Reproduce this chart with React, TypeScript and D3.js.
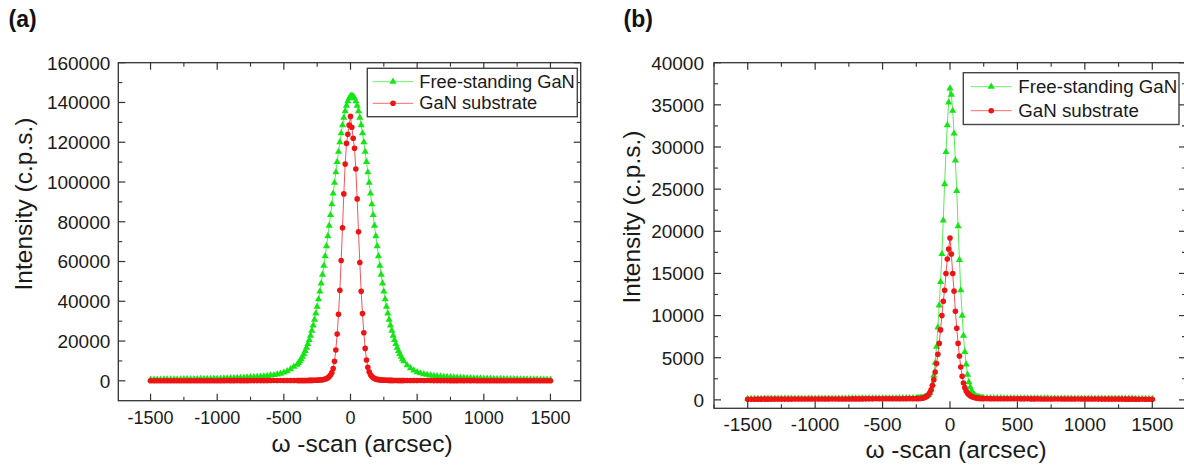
import React from 'react';
import * as d3 from 'd3';

// ---------------- DATA ----------------
const seriesNames = ['Free-standing GaN', 'GaN substrate'];

// Panel (a): omega-scan positions (arcsec)
const scanA = [
  -1500, -1475, -1450, -1425, -1400, -1375, -1350, -1325, -1300, -1275, -1250, -1225, -1200, -1175, -1150,
  -1125, -1100, -1075, -1050, -1025, -1000, -975, -950, -925, -900, -875, -850, -825, -800, -775, -750,
  -725, -700, -675, -650, -625, -600, -575, -550, -525, -500, -475, -450, -425,
  -400, -390, -380, -370, -360, -350, -340, -330, -320, -310, -300, -290, -280, -270, -260, -250, -240,
  -230, -220, -210, -200, -190, -180, -170, -160, -150, -140, -130, -120, -110, -100, -90, -80, -70, -60,
  -50, -40, -30, -20, -10, 0, 10, 20, 30, 40, 50, 60, 70, 80, 90, 100, 110, 120, 130, 140, 150, 160, 170,
  180, 190, 200, 210, 220, 230, 240, 250, 260, 270, 280, 290, 300, 310, 320, 330, 340, 350, 360, 370, 380,
  390, 400,
  425, 450, 475, 500, 525, 550, 575, 600, 625, 650, 675, 700, 725, 750, 775, 800, 825, 850, 875, 900, 925,
  950, 975, 1000, 1025, 1050, 1075, 1100, 1125, 1150, 1175, 1200, 1225, 1250, 1275, 1300, 1325, 1350,
  1375, 1400, 1425, 1450, 1475, 1500,
];

const freeStandingA = [
  615, 630, 645, 660, 675, 695, 710, 730, 750, 775, 795, 820, 845, 870, 900,
  930, 965, 1000, 1040, 1080, 1120, 1170, 1220, 1270, 1330, 1390, 1460, 1530, 1610, 1700, 1800,
  1900, 2020, 2150, 2300, 2470, 2680, 2930, 3240, 3640, 4170, 4900, 5890, 7100,
  8100, 9000, 9900, 10900, 12100, 13500, 15000, 16600, 18500, 20500, 22700, 25200, 27900, 30800, 33900,
  37300, 41000, 44900, 49000, 53400, 57900, 62700, 67700, 72800, 78000, 83400, 88800, 94200, 99600,
  104900, 110100, 115200, 120000, 124500, 128600, 132400, 135600, 138400, 140600, 142200, 143200,
  143500, 143200, 142200, 140600, 138400, 135600, 132400, 128600, 124500, 120000, 115200, 110100,
  104900, 99600, 94200, 88800, 83400, 78000, 72800, 67700, 62700, 57900, 53400, 49000, 44900, 41000,
  37300, 33900, 30800, 27900, 25200, 22700, 20500, 18500, 16600, 15000, 13500, 12100, 10900, 9900,
  7800, 6400, 5200, 4400, 3800, 3350, 3020, 2750, 2530, 2350, 2190, 2050, 1930, 1820, 1720, 1630, 1550,
  1470, 1400, 1340, 1280, 1230, 1180, 1130, 1090, 1050, 1010, 975, 940, 910, 880, 850, 825, 800, 780,
  755, 735, 715, 700, 680, 665, 650, 635, 620,
];

const substrateA = [
  40, 40, 42, 42, 44, 45, 46, 47, 48, 50, 51, 52, 54, 55, 57,
  58, 60, 62, 64, 66, 68, 70, 72, 75, 78, 80, 83, 86, 90, 93, 97,
  100, 105, 110, 115, 120, 125, 130, 135, 140, 145, 150, 155, 160,
  165, 168, 170, 173, 176, 180, 184, 188, 193, 198, 210, 225, 245, 265, 290, 320, 360,
  410, 480, 570, 700, 880, 1150, 1550, 2100, 2900, 4100, 6200, 9800, 15500, 23500, 33500, 45500, 60500, 77000,
  94000, 109000, 119400, 124000, 128600, 133000, 127500, 122000, 117000, 106500, 91500, 75000, 59500,
  45000, 33800, 24200, 16300, 10500, 6800, 4500, 3100, 2200, 1600, 1180, 900, 720, 590, 490, 420, 365,
  325, 295, 268, 247, 228, 212, 200, 194, 189, 185, 181, 177, 174, 171, 168, 165,
  158, 153, 148, 143, 138, 133, 128, 123, 118, 113, 108, 104, 100, 96, 92, 88, 85, 82, 79, 76, 73,
  70, 68, 66, 64, 62, 60, 58, 56, 55, 54, 52, 51, 50, 48, 47, 46, 45, 44, 43, 42, 41, 40, 40,
];

// Panel (b)
const scanB = [
  -1500, -1475, -1450, -1425, -1400, -1375, -1350, -1325, -1300, -1275, -1250, -1225, -1200, -1175, -1150,
  -1125, -1100, -1075, -1050, -1025, -1000, -975, -950, -925, -900, -875, -850, -825, -800, -775, -750,
  -725, -700, -675, -650, -625, -600, -575, -550, -525, -500, -475, -450, -425, -400, -375, -350, -325,
  -300, -275,
  -250, -240, -230, -220, -210, -200, -190, -180, -170, -160, -150, -140, -130, -120, -110, -100, -90,
  -80, -70, -60, -50, -40, -30, -20, -10, 0, 10, 20, 30, 40, 50, 60, 70, 80, 90, 100, 110, 120, 130, 140,
  150, 160, 170, 180, 190, 200, 210, 220, 230, 240, 250,
  275, 300, 325, 350, 375, 400, 425, 450, 475, 500, 525, 550, 575, 600, 625, 650, 675, 700, 725, 750,
  775, 800, 825, 850, 875, 900, 925, 950, 975, 1000, 1025, 1050, 1075, 1100, 1125, 1150, 1175, 1200,
  1225, 1250, 1275, 1300, 1325, 1350, 1375, 1400, 1425, 1450, 1475, 1500,
];

const freeStandingB = [
  130, 131, 132, 133, 134, 135, 136, 137, 138, 139, 140, 141, 142, 143, 144,
  145, 146, 147, 148, 149, 150, 152, 153, 154, 155, 157, 158, 160, 161, 163, 165,
  167, 169, 171, 173, 175, 177, 179, 181, 183, 185, 187, 189, 191, 193, 195, 197, 200,
  203, 206,
  210, 215, 225, 240, 255, 280, 320, 380, 460, 600, 850, 1250, 1900, 2900, 4400, 6300, 8600,
  11200, 14000, 17300, 21300, 25600, 29400, 32600, 35300, 36960, 36200, 34300, 31600, 28400, 24800,
  20600, 16600, 13000, 10000, 7600, 5700, 4200, 3000, 2100, 1500, 1100, 800, 600, 470, 390, 330, 290,
  260, 240, 220,
  210, 205, 200, 197, 194, 191, 189, 187, 185, 183, 181, 179, 177, 175, 173, 171, 169, 167, 165, 163,
  161, 160, 158, 157, 155, 154, 153, 152, 150, 149, 148, 147, 146, 145, 144, 143, 142, 141, 140, 139,
  138, 137, 136, 135, 134, 133, 132, 131, 130, 130,
];

const substrateB = [
  80, 81, 82, 83, 84, 85, 86, 87, 88, 89, 90, 91, 92, 93, 94,
  95, 96, 97, 98, 99, 100, 101, 102, 103, 104, 106, 107, 108, 110, 111, 112,
  114, 115, 117, 118, 120, 121, 123, 125, 127, 129, 131, 133, 135, 137, 139, 141, 143,
  145, 147,
  150, 155, 160, 170, 185, 230, 280, 350, 450, 600, 850, 1200, 1700, 2400, 3300, 4300, 5400,
  6700, 8300, 10000, 11700, 13000, 15000, 16700, 17900, 19200, 17300, 15000, 12900, 10500, 8500,
  6700, 5200, 3900, 2800, 2000, 1450, 1050, 800, 620, 500, 400, 330, 280, 240, 210, 190, 175,
  165, 155, 150,
  145, 142, 139, 137, 135, 133, 131, 129, 127, 125, 123, 121, 119, 117, 115, 113, 112, 111, 110, 108,
  107, 106, 105, 104, 103, 102, 101, 100, 99, 98, 97, 96, 95, 94, 93, 92, 91, 90, 89, 88,
  87, 86, 85, 84, 83, 82, 81, 80, 80, 80,
];

const xTickValues = [-1500, -1000, -500, 0, 500, 1000, 1500];
const yTickValuesA = [0, 20000, 40000, 60000, 80000, 100000, 120000, 140000, 160000];
const yTickValuesB = [0, 5000, 10000, 15000, 20000, 25000, 30000, 35000, 40000];

// ---------------- STYLE / LAYOUT ----------------
const FONT = "'Liberation Sans', Arial, Helvetica, sans-serif";
const TEXT = '#1a1a1a';
const AXIS = '#333';
const GREEN = '#14e614';
const RED = '#ee1414';

type Cfg = {
  label: string; labelX: number;
  xDomain: [number, number]; xRange: [number, number];
  yDomain: [number, number]; yRange: [number, number];
  yMinorStep: number;
  xFont: number; yFont: number; yLabelGap: number;
  yTitleX: number; yTitleY: number; xTitleX: number; xTitleY: number;
  legend: { x0: number; y0: number; x1: number; y1: number; lx0: number; lx1: number; rows: number[]; tx: number; font: number };
  scan: number[]; green: number[]; red: number[]; yTicks: number[];
};

const panels: Cfg[] = [
  {
    label: '(a)', labelX: 8.5,
    xDomain: [-1742, 1727], xRange: [118.3, 580.7],
    yDomain: [-10000, 160000], yRange: [400.7, 62.7],
    yMinorStep: 10000,
    xFont: 18, yFont: 19, yLabelGap: 8,
    yTitleX: 31.5, yTitleY: 204, xTitleX: 362, xTitleY: 452,
    legend: { x0: 367.3, y0: 68.3, x1: 577.3, y1: 116.7, lx0: 372.7, lx1: 413.3, rows: [81.7, 103.3], tx: 419.3, font: 18.3 },
    scan: scanA, green: freeStandingA, red: substrateA, yTicks: yTickValuesA,
  },
  {
    label: '(b)', labelX: 623.5,
    xDomain: [-1750, 1750], xRange: [714, 1186],
    yDomain: [-1000, 40000], yRange: [408.3, 62.7],
    yMinorStep: 2500,
    xFont: 19, yFont: 19, yLabelGap: 10,
    yTitleX: 640, yTitleY: 217, xTitleX: 956, xTitleY: 458,
    legend: { x0: 963.3, y0: 72.7, x1: 1179, y1: 124.5, lx0: 970.7, lx1: 1011.7, rows: [86.7, 110.7], tx: 1018.3, font: 18.7 },
    scan: scanB, green: freeStandingB, red: substrateB, yTicks: yTickValuesB,
  },
];

const triPath = d3.symbol().type(d3.symbolTriangle).size(22)() as string;
const triPathLegend = d3.symbol().type(d3.symbolTriangle).size(22)() as string;

function Series({ scan, values, x, y, color, kind }: any) {
  const n = Math.min(scan.length, values.length);
  const idx = d3.range(n);
  const line = d3.line<number>().x((i) => x(scan[i])).y((i) => y(values[i]));
  return (
    <g>
      <path d={line(idx) || ''} fill="none" stroke={color} strokeWidth={0.9} strokeOpacity={0.8} />
      {idx.map((i) =>
        kind === 'tri' ? (
          <path key={i} d={triPath} transform={`translate(${x(scan[i])},${y(values[i])})`} fill={color} />
        ) : (
          <circle key={i} cx={x(scan[i])} cy={y(values[i])} r={2.8} fill={color} />
        )
      )}
    </g>
  );
}

function Panel({ c }: { c: Cfg }) {
  const x = d3.scaleLinear().domain(c.xDomain).range(c.xRange);
  const y = d3.scaleLinear().domain(c.yDomain).range(c.yRange);
  const [xl, xr] = c.xRange;
  const [yb, yt] = c.yRange;
  const xMinor = d3.range(-1750, 1751, 250).filter((v) => v >= c.xDomain[0] && v <= c.xDomain[1] && !xTickValues.includes(v));
  const yMinor = d3.range(0, c.yDomain[1] + 1, c.yMinorStep)
    .concat(d3.range(-c.yMinorStep, c.yDomain[0] - 1, -c.yMinorStep))
    .filter((v) => v > c.yDomain[0] && v < c.yDomain[1] && !c.yTicks.includes(v));
  const MAJ = 7, MIN = 4;
  const L = c.legend;
  return (
    <g>
      <text x={c.labelX} y={27} fontFamily={FONT} fontWeight="bold" fontSize={23} fill="#111">{c.label}</text>
      {/* data */}
      <Series scan={c.scan} values={c.green} x={x} y={y} color={GREEN} kind="tri" />
      <Series scan={c.scan} values={c.red} x={x} y={y} color={RED} kind="dot" />
      {/* frame */}
      <rect x={xl} y={yt} width={xr - xl} height={yb - yt} fill="none" stroke={AXIS} strokeWidth={1.3} />
      {/* x ticks bottom and top */}
      {xTickValues.map((v) => (
        <g key={'xm' + v}>
          <line x1={x(v)} x2={x(v)} y1={yb} y2={yb - MAJ} stroke={AXIS} strokeWidth={1.2} />
          <line x1={x(v)} x2={x(v)} y1={yt} y2={yt + MAJ} stroke={AXIS} strokeWidth={1.2} />
          <text x={x(v)} y={yb + 23} textAnchor="middle" fontFamily={FONT} fontSize={c.xFont} fill={TEXT}>{v}</text>
        </g>
      ))}
      {xMinor.map((v) => (
        <g key={'xn' + v}>
          <line x1={x(v)} x2={x(v)} y1={yb} y2={yb - MIN} stroke={AXIS} strokeWidth={1.1} />
          <line x1={x(v)} x2={x(v)} y1={yt} y2={yt + MIN} stroke={AXIS} strokeWidth={1.1} />
        </g>
      ))}
      {/* y ticks left and right */}
      {c.yTicks.map((v) => (
        <g key={'ym' + v}>
          <line x1={xl} x2={xl + MAJ} y1={y(v)} y2={y(v)} stroke={AXIS} strokeWidth={1.2} />
          <line x1={xr} x2={xr - MAJ} y1={y(v)} y2={y(v)} stroke={AXIS} strokeWidth={1.2} />
          <text x={xl - c.yLabelGap} y={y(v)} dy="0.36em" textAnchor="end" fontFamily={FONT} fontSize={c.yFont} fill={TEXT}>{v}</text>
        </g>
      ))}
      {yMinor.map((v) => (
        <g key={'yn' + v}>
          <line x1={xl} x2={xl + MIN} y1={y(v)} y2={y(v)} stroke={AXIS} strokeWidth={1.1} />
          <line x1={xr} x2={xr - MIN} y1={y(v)} y2={y(v)} stroke={AXIS} strokeWidth={1.1} />
        </g>
      ))}
      {/* axis titles */}
      <text transform={`translate(${c.yTitleX},${c.yTitleY}) rotate(-90)`} textAnchor="middle" fontFamily={FONT} fontSize={24.5} fill={TEXT}>Intensity (c.p.s.)</text>
      <text x={c.xTitleX} y={c.xTitleY} textAnchor="middle" fontFamily={FONT} fontSize={24.5} fill={TEXT}>ω -scan (arcsec)</text>
      {/* legend */}
      <rect x={L.x0} y={L.y0} width={L.x1 - L.x0} height={L.y1 - L.y0} fill="#fff" stroke="#444" strokeWidth={1.4} />
      {[GREEN, RED].map((col, i) => {
        const ry = L.rows[i];
        const mx = (L.lx0 + L.lx1) / 2;
        return (
          <g key={'lg' + i}>
            <line x1={L.lx0} x2={L.lx1} y1={ry} y2={ry} stroke={col} strokeWidth={0.9} strokeOpacity={0.7} />
            {i === 0 ? (
              <path d={triPathLegend} transform={`translate(${mx},${ry})`} fill={col} />
            ) : (
              <circle cx={mx} cy={ry} r={2.8} fill={col} />
            )}
            <text x={L.tx} y={ry + 6} fontFamily={FONT} fontSize={L.font} fill={TEXT}>{seriesNames[i]}</text>
          </g>
        );
      })}
    </g>
  );
}

export default function App() {
  return (
    <svg width={1184} height={465} viewBox="0 0 1184 465" style={{ position: 'absolute', left: 0, top: 0, display: 'block', background: '#fff' }}>
      <rect x={0} y={0} width={1184} height={465} fill="#fff" />
      {panels.map((c) => (
        <Panel key={c.label} c={c} />
      ))}
    </svg>
  );
}
